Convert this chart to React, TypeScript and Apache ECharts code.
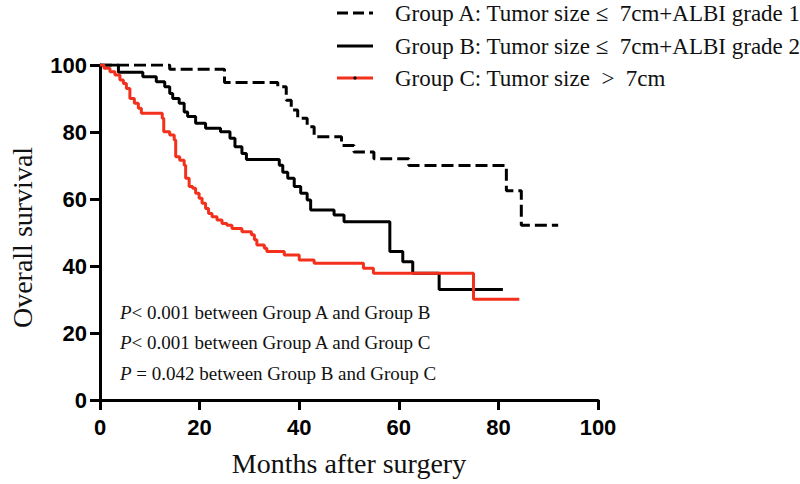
import React, { useEffect, useRef } from "react";
import * as echarts from "echarts";

// ---- Data ----
const xTicks = [0, 20, 40, 60, 80, 100];
const yTicks = [0, 20, 40, 60, 80, 100];

const groupANames = "Group A: Tumor size \u2264\u00A0 7cm+ALBI grade 1";
const groupBNames = "Group B: Tumor size \u2264\u00A0 7cm+ALBI grade 2";
const groupCNames = "Group C: Tumor size\u00A0 >\u00A0 7cm";

const groupAMonths = [0, 14, 25, 35.7, 37.4, 38.4, 39.7, 41.6, 43, 48.5, 51, 55, 62, 81.6, 84.6, 92];
const groupAValues = [100, 98.7, 94.8, 93.5, 89.5, 86.6, 84.1, 81.6, 78.6, 76, 74, 72, 70, 62.5, 52.2, 52.2];

const groupBMonths = [0, 3.7, 8.6, 11.3, 13, 14, 14.6, 15.9, 16.9, 17.6, 19.2, 21.2, 24.2, 26.1, 27.1, 28.5, 29.4, 36, 36.7, 37.7, 39, 40.3, 41.6, 42.3, 47, 49, 58.2, 60.8, 62.8, 68.1, 80.9];
const groupBValues = [100, 97.8, 96.5, 95, 93.5, 91.5, 90, 88.6, 86, 84.6, 82.6, 81.1, 80.1, 78.1, 75.6, 73.6, 71.8, 70.1, 68, 66.2, 63.7, 61.7, 59.7, 56.7, 55.2, 53.2, 44.3, 41.3, 37.8, 33, 33];

const groupCMonths = [0, 0.8, 2, 3, 4, 4.7, 5.3, 6, 6.9, 7.7, 8.3, 12.5, 12.8, 14, 14.9, 15.2, 16, 16.9, 17.2, 17.9, 18.6, 19.2, 19.9, 20.5, 21.2, 21.8, 22.5, 23.5, 24.5, 25.5, 26.5, 28.5, 30.4, 31, 31.5, 33, 33.5, 37, 40, 43, 52.9, 54.9, 75, 84.2];
const groupCValues = [100, 99, 98, 97, 95.5, 94.5, 93, 90, 88.6, 87.1, 85.6, 84.1, 80.1, 79.1, 77.6, 72.6, 71.6, 70.1, 66.2, 63.7, 63.2, 61.7, 60.2, 58.7, 57.2, 55.7, 54.7, 53.7, 52.7, 52.2, 51.2, 50.2, 49.3, 47.8, 46.3, 45.3, 44.3, 43.3, 41.8, 40.8, 39.3, 37.8, 30.1, 30.1];

const pValueLines = [
  { sym: "< 0.001", text: " between Group A and Group B" },
  { sym: "< 0.001", text: " between Group A and Group C" },
  { sym: " = 0.042", text: " between Group B and Group C" },
];

const xTitle = "Months after surgery";
const yTitle = "Overall survival";

const RED = "#f3301c";
const SERIF = "'Liberation Serif', 'Times New Roman', serif";
const SANS = "'Liberation Sans', Arial, sans-serif";

const zip = (xs: number[], ys: number[]) => xs.map((x, i) => [x, ys[i]]);

export default function App() {
  const ref = useRef<HTMLDivElement>(null);

  useEffect(() => {
    if (!ref.current) return;
    const chart = echarts.init(ref.current, undefined, { renderer: "svg" });

    const axisCommon = {
      type: "value" as const,
      min: 0,
      max: 100,
      interval: 20,
      axisLine: { show: true, lineStyle: { color: "#000", width: 3 } },
      axisTick: { show: true, inside: false, length: 10, lineStyle: { color: "#000", width: 3 } },
      splitLine: { show: false },
      axisLabel: {
        color: "#000",
        fontFamily: SANS,
        fontWeight: "bold" as const,
        fontSize: 22,
      },
    };

    const legendRows = [
      { y: 13, name: groupANames, stroke: "#000", dash: [11, 5], dot: false },
      { y: 46, name: groupBNames, stroke: "#000", dash: null, dot: false },
      { y: 78, name: groupCNames, stroke: RED, dash: null, dot: true },
    ];

    const graphics: any[] = [];
    legendRows.forEach((r) => {
      graphics.push({
        type: "line",
        shape: { x1: 337, y1: r.y, x2: 373, y2: r.y },
        style: { stroke: r.stroke, lineWidth: 3, lineDash: r.dash || undefined },
        silent: true,
      });
      if (r.dot) {
        graphics.push({
          type: "circle",
          shape: { cx: 355, cy: r.y, r: 1.6 },
          style: { fill: "#000" },
          silent: true,
        });
      }
      graphics.push({
        type: "text",
        x: 395,
        y: r.y,
        style: {
          text: r.name,
          fontFamily: SERIF,
          fontSize: 23,
          fill: "#111",
          align: "left",
          verticalAlign: "middle",
        },
        silent: true,
      });
    });

    pValueLines.forEach((p, i) => {
      graphics.push({
        type: "text",
        x: 120,
        y: 312 + i * 30.5,
        style: {
          text: "{i|P}" + p.sym + p.text,
          fontFamily: SERIF,
          fontSize: 19,
          fill: "#111",
          align: "left",
          verticalAlign: "middle",
          rich: {
            i: { fontStyle: "italic", fontFamily: SERIF, fontSize: 19, fill: "#111" },
          },
        },
        silent: true,
      });
    });

    chart.setOption({
      animation: false,
      backgroundColor: "#fff",
      grid: { left: 93, right: 202, top: 65, bottom: 84, containLabel: false },
      xAxis: {
        ...axisCommon,
        axisLabel: { ...axisCommon.axisLabel, margin: 16, formatter: (v: number) => (xTicks.includes(v) ? String(v) : "") },
        name: xTitle,
        nameLocation: "middle",
        nameGap: 49,
        nameTextStyle: { fontFamily: SERIF, fontSize: 28, color: "#111" },
      },
      yAxis: {
        ...axisCommon,
        axisLabel: { ...axisCommon.axisLabel, margin: 13, formatter: (v: number) => (yTicks.includes(v) ? String(v) : "") },
        name: yTitle,
        nameLocation: "middle",
        nameGap: 64,
        nameRotate: 90,
        nameTextStyle: { fontFamily: SERIF, fontSize: 28, color: "#111", padding: [0, 10, 0, 0] },
      },
      series: [
        {
          name: groupANames,
          type: "line",
          step: "end",
          data: zip(groupAMonths, groupAValues),
          showSymbol: false,
          symbol: "none",
          lineStyle: { color: "#000", width: 3, type: [12, 5] },
          z: 2,
        },
        {
          name: groupBNames,
          type: "line",
          step: "end",
          data: zip(groupBMonths, groupBValues),
          showSymbol: false,
          symbol: "none",
          lineStyle: { color: "#000", width: 3 },
          z: 3,
        },
        {
          name: groupCNames,
          type: "line",
          step: "end",
          data: zip(groupCMonths, groupCValues),
          showSymbol: false,
          symbol: "none",
          lineStyle: { color: RED, width: 3 },
          z: 4,
        },
      ],
      graphic: graphics,
    });

    return () => chart.dispose();
  }, []);

  return <div ref={ref} style={{ width: 800, height: 484, position: "absolute", left: 0, top: 0 }} />;
}
